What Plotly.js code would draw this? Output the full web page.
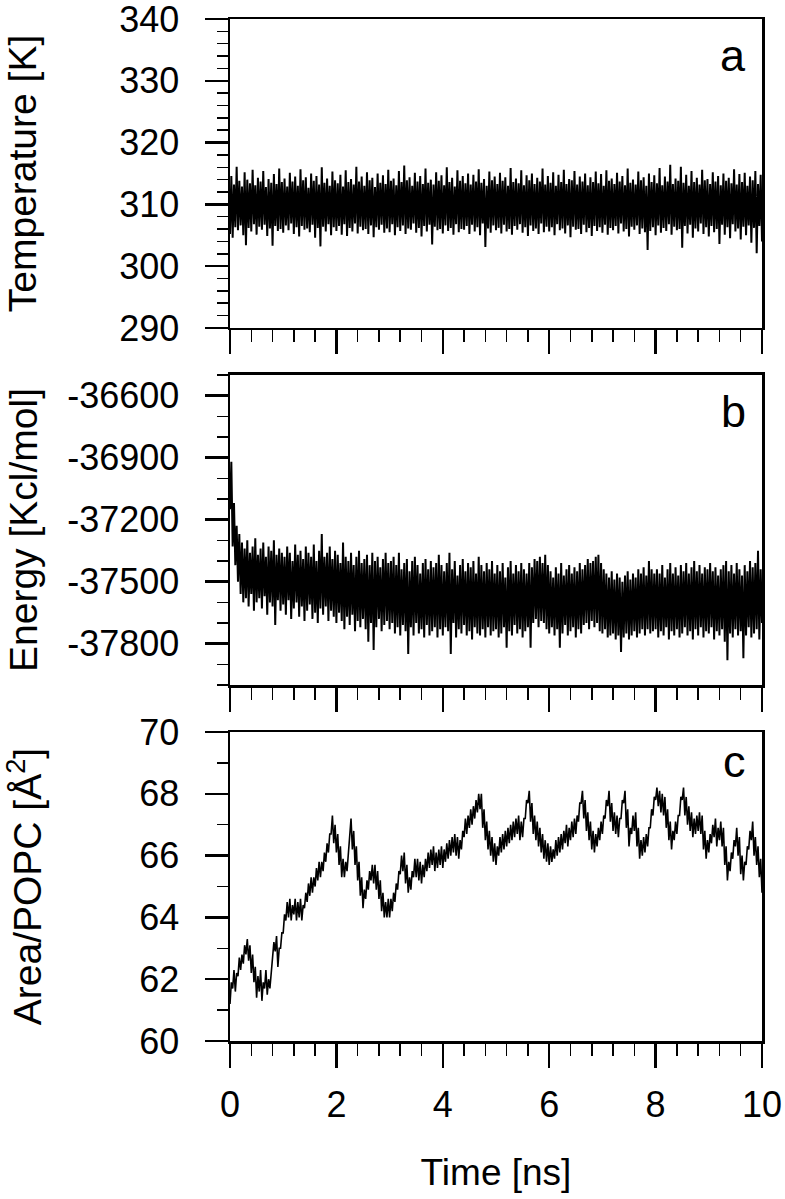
<!DOCTYPE html>
<html>
<head>
<meta charset="utf-8">
<script src="https://cdn.plot.ly/plotly-3.0.1.min.js"></script>
<style>
  html, body { margin: 0; padding: 0; background: #fff; }
  #tester { width: 785px; height: 1199px; }
</style>
</head>
<body>
<div id="tester"></div>
<script>
// sampling step of the traces (ns), read as upper / lower envelope per step
var timeStep = 0.05;

// panel a: temperature [K]
var tempHi = [
  314.6,313.2,316.1,313.8,312.9,315.2,314.0,313.4,315.6,313.1,314.3,313.7,315.4,312.8,314.1,313.5,314.9,313.3,315.8,313.6,
  314.2,312.9,315.1,313.7,314.5,313.0,315.7,313.9,314.4,312.7,315.0,313.8,314.6,313.2,316.0,313.5,314.2,313.0,315.3,313.9,
  313.4,314.8,312.9,315.5,313.6,314.1,313.2,316.1,313.7,314.5,313.0,315.2,313.9,314.3,312.8,315.0,313.5,314.7,313.3,315.6,
  313.8,314.2,313.1,315.4,313.6,316.3,313.9,314.4,313.0,315.1,313.7,314.6,313.3,315.8,313.5,314.0,313.2,315.2,313.8,314.7,
  313.1,316.0,313.6,314.3,312.9,315.5,313.8,314.6,313.4,315.0,313.2,314.8,313.7,315.7,313.5,314.1,313.0,315.3,313.9,314.5,
  313.3,315.1,313.8,314.4,313.0,315.9,313.6,314.2,313.4,315.5,313.1,314.7,313.9,315.0,313.3,314.3,313.7,315.8,313.2,314.6,
  313.5,315.2,313.0,314.8,313.6,315.6,313.3,314.1,313.9,315.4,313.2,314.5,313.7,315.0,313.1,314.4,313.6,315.3,313.4,314.9,
  313.0,315.5,313.8,314.2,313.3,315.1,313.7,314.6,313.1,315.8,313.5,314.0,313.2,315.3,313.9,314.4,313.0,315.0,313.6,314.7,
  313.4,315.9,313.1,314.5,313.7,316.4,313.3,314.2,313.8,316.1,313.5,314.8,313.0,315.4,313.6,314.3,313.2,315.6,313.9,314.1,
  313.3,315.2,313.7,314.6,313.1,315.0,313.8,314.3,313.4,315.7,313.2,314.9,313.6,315.1,313.0,314.5,313.9,315.4,313.3,314.8,
  313.5
];
var tempLo = [
  305.2,304.6,306.3,305.8,306.6,305.0,303.4,306.2,305.6,306.8,305.1,306.4,305.9,306.7,304.9,306.1,303.3,306.5,305.7,306.0,
  305.4,306.6,305.8,306.9,305.2,306.3,304.8,306.5,305.9,306.1,305.5,306.7,304.6,306.2,303.2,306.4,305.6,306.8,305.0,306.3,
  305.7,306.5,305.1,306.8,304.9,306.2,305.6,306.9,305.3,306.4,305.8,306.0,305.2,306.6,304.7,306.3,305.9,306.7,305.4,306.1,
  305.5,306.8,305.0,306.3,305.7,306.6,305.2,306.1,305.9,306.9,305.4,306.2,304.8,306.5,305.6,306.7,303.5,306.4,305.8,306.0,
  305.3,306.6,305.7,306.2,305.1,306.8,305.5,306.0,305.9,306.5,305.2,306.7,305.6,306.3,305.0,306.9,303.1,306.1,305.4,306.6,
  305.8,306.2,305.3,306.7,305.6,306.0,305.1,306.5,305.9,306.8,305.4,306.3,304.9,306.6,305.7,306.1,305.2,306.9,305.5,306.4,
  305.6,306.3,305.0,306.8,305.8,306.1,305.3,306.6,304.7,306.4,305.9,306.0,305.2,306.7,305.5,306.2,304.9,306.5,305.7,306.3,
  305.4,306.7,305.1,306.2,305.8,306.5,305.3,306.9,305.6,306.0,304.8,306.4,305.9,306.6,305.2,306.1,305.5,302.6,305.7,306.3,
  305.0,306.6,305.4,306.2,305.7,306.8,305.1,306.4,305.8,306.0,303.0,306.5,305.3,306.7,304.6,306.1,305.6,306.9,305.2,306.3,
  304.8,306.5,305.5,306.0,303.6,306.7,305.1,306.3,304.5,306.8,305.6,306.1,304.3,306.4,305.0,306.6,303.8,306.2,302.1,306.5,
  304.0
];

// panel b: energy [Kcal/mol]
var energyHi = [
  -36920,-37120,-37230,-37270,-37310,-37340,-37300,-37360,-37330,-37290,-37370,-37340,-37310,-37380,-37330,-37350,-37300,-37370,-37340,-37360,
  -37380,-37330,-37360,-37400,-37320,-37370,-37350,-37390,-37330,-37360,-37380,-37320,-37400,-37350,-37270,-37380,-37360,-37330,-37390,-37350,
  -37370,-37410,-37310,-37380,-37400,-37360,-37420,-37380,-37350,-37410,-37390,-37370,-37420,-37360,-37400,-37380,-37430,-37390,-37360,-37410,
  -37400,-37380,-37420,-37360,-37440,-37410,-37390,-37450,-37400,-37380,-37420,-37460,-37410,-37390,-37440,-37400,-37430,-37410,-37370,-37420,
  -37450,-37410,-37360,-37440,-37400,-37470,-37420,-37390,-37450,-37410,-37430,-37400,-37460,-37380,-37420,-37450,-37410,-37440,-37400,-37460,
  -37420,-37450,-37410,-37480,-37430,-37400,-37460,-37420,-37450,-37410,-37440,-37460,-37410,-37430,-37390,-37400,-37380,-37410,-37370,-37420,
  -37450,-37480,-37430,-37460,-37410,-37470,-37440,-37420,-37460,-37430,-37450,-37410,-37440,-37420,-37390,-37410,-37400,-37380,-37370,-37410,
  -37440,-37460,-37480,-37450,-37490,-37460,-37480,-37500,-37470,-37450,-37490,-37460,-37480,-37440,-37460,-37430,-37470,-37400,-37440,-37460,
  -37440,-37460,-37420,-37480,-37440,-37410,-37460,-37430,-37470,-37420,-37450,-37410,-37460,-37430,-37400,-37450,-37420,-37460,-37430,-37440,
  -37410,-37450,-37430,-37470,-37440,-37420,-37400,-37450,-37420,-37460,-37410,-37440,-37470,-37420,-37450,-37400,-37430,-37410,-37350,-37440,
  -37460
];
var energyLo = [
  -37150,-37330,-37420,-37500,-37560,-37600,-37580,-37620,-37560,-37640,-37600,-37580,-37630,-37570,-37660,-37600,-37620,-37710,-37590,-37640,
  -37610,-37660,-37590,-37680,-37630,-37600,-37670,-37620,-37690,-37640,-37610,-37680,-37650,-37700,-37630,-37660,-37620,-37690,-37640,-37670,
  -37700,-37650,-37690,-37730,-37670,-37710,-37660,-37740,-37690,-37720,-37680,-37730,-37790,-37700,-37830,-37720,-37680,-37740,-37710,-37690,
  -37730,-37700,-37750,-37720,-37760,-37710,-37740,-37850,-37720,-37760,-37700,-37750,-37730,-37770,-37710,-37760,-37740,-37720,-37770,-37730,
  -37760,-37720,-37740,-37850,-37700,-37770,-37730,-37750,-37710,-37760,-37740,-37780,-37720,-37750,-37760,-37730,-37770,-37720,-37760,-37740,
  -37730,-37770,-37750,-37720,-37820,-37740,-37760,-37710,-37750,-37730,-37770,-37740,-37720,-37820,-37700,-37680,-37720,-37690,-37700,-37730,
  -37750,-37720,-37760,-37730,-37820,-37750,-37710,-37760,-37740,-37720,-37770,-37730,-37750,-37710,-37700,-37730,-37690,-37720,-37700,-37740,
  -37750,-37730,-37770,-37760,-37750,-37780,-37760,-37840,-37770,-37750,-37780,-37760,-37740,-37770,-37750,-37730,-37760,-37730,-37750,-37740,
  -37730,-37770,-37740,-37760,-37720,-37780,-37740,-37760,-37730,-37770,-37750,-37720,-37760,-37740,-37780,-37730,-37760,-37720,-37770,-37740,
  -37750,-37720,-37780,-37740,-37760,-37730,-37790,-37880,-37750,-37770,-37730,-37760,-37740,-37870,-37760,-37720,-37770,-37750,-37730,-37780,
  -37700
];
var energyTicks = [-36600, -36900, -37200, -37500, -37800];
var energyTickText = ['-36600', '-36900', '-37200', '-37500', '-37800'];

// panel c: area per POPC [A^2]
var areaHi = [
  61.9,62.3,62.2,62.7,62.8,63.1,63.3,63.1,62.8,62.4,62.1,62.3,61.9,62.3,62.0,62.3,63.2,63.4,63.0,63.5,
  64.1,64.5,64.6,64.4,64.6,64.5,64.6,64.4,64.8,65.1,65.3,65.3,65.6,65.8,65.8,66.1,66.4,66.7,67.3,67.0,
  66.7,66.3,65.9,65.8,66.1,67.2,66.8,66.3,65.8,65.3,64.9,65.2,65.5,65.7,65.7,65.5,65.2,64.8,64.5,64.6,
  64.6,64.8,65.1,65.5,66.0,66.1,65.7,65.3,65.5,65.9,65.9,65.8,65.7,65.9,66.1,66.2,66.3,66.1,66.2,66.3,
  66.2,66.4,66.5,66.6,66.7,66.6,66.5,66.8,67.2,67.3,67.5,67.6,67.8,68.0,68.0,67.5,67.1,66.8,66.6,66.4,
  66.3,66.6,66.7,66.8,66.9,67.0,67.1,67.2,67.3,67.1,67.2,67.8,68.1,67.7,67.3,67.1,66.9,66.7,66.5,66.4,
  66.3,66.2,66.5,66.6,66.7,66.8,67.0,66.9,67.1,67.2,67.3,67.7,68.1,67.8,67.4,67.1,66.8,66.7,66.9,67.1,
  67.3,67.8,68.1,67.7,67.4,67.3,67.2,67.8,68.1,67.5,66.9,67.3,67.4,66.9,66.5,66.6,66.7,66.9,67.5,67.9,
  68.2,68.1,68.0,67.9,67.5,67.1,66.8,67.1,67.3,67.9,68.2,67.9,67.6,67.4,67.2,67.3,67.4,67.3,66.8,66.5,
  66.7,67.0,67.2,66.9,67.1,66.9,66.3,65.8,66.1,66.5,66.9,66.6,66.0,65.8,66.3,66.8,67.1,66.6,66.3,65.9,
  65.3
];
var areaLo = [
  61.2,61.7,61.6,62.1,62.3,62.5,62.8,62.6,62.2,61.9,61.4,61.6,61.3,61.7,61.5,61.7,62.6,62.9,62.4,63.0,
  63.5,63.9,64.0,63.9,64.1,63.9,64.0,63.9,64.3,64.5,64.7,64.8,65.0,65.2,65.3,65.5,65.8,66.1,66.7,66.4,
  66.1,65.7,65.3,65.3,65.5,66.7,66.2,65.7,65.2,64.7,64.3,64.6,64.9,65.2,65.1,64.9,64.6,64.2,64.0,64.0,
  64.0,64.2,64.5,64.9,65.4,65.5,65.1,64.8,64.9,65.3,65.3,65.2,65.1,65.3,65.5,65.6,65.7,65.5,65.6,65.7,
  65.6,65.8,65.9,66.0,66.1,66.0,65.9,66.2,66.6,66.7,66.9,67.0,67.2,67.4,67.5,66.9,66.5,66.2,66.0,65.8,
  65.7,66.0,66.1,66.2,66.3,66.4,66.5,66.6,66.7,66.5,66.6,67.2,67.7,67.1,66.7,66.5,66.3,66.1,65.9,65.8,
  65.7,65.8,65.9,66.0,66.1,66.2,66.4,66.3,66.5,66.6,66.7,67.1,67.7,67.2,66.8,66.5,66.2,66.1,66.3,66.5,
  66.7,67.2,67.6,67.1,66.8,66.7,66.6,67.2,67.7,66.9,66.3,66.7,66.8,66.3,65.9,66.0,66.1,66.3,66.9,67.3,
  67.8,67.6,67.4,67.3,66.9,66.5,66.2,66.5,66.7,67.3,67.8,67.3,67.0,66.8,66.6,66.7,66.8,66.7,66.2,65.9,
  66.1,66.4,66.6,66.3,66.5,66.3,65.7,65.2,65.5,65.9,66.3,66.0,65.4,65.2,65.7,66.2,66.5,66.0,65.7,65.3,
  64.8
];

var panelLetters = ['a', 'b', 'c'];

// interleave the lower and upper envelope into one trace
function zigzag(lo, hi) {
  var xs = [], ys = [];
  for (var i = 0; i < lo.length; i++) {
    var t = i * timeStep;
    xs.push(t); ys.push(lo[i]);
    xs.push(t + timeStep / 2); ys.push(hi[i]);
  }
  return {x: xs, y: ys};
}

var FONT = 'Arial, "Liberation Sans", sans-serif';

var tA = zigzag(tempLo, tempHi);
var tB = zigzag(energyLo, energyHi);
var tC = zigzag(areaLo, areaHi);

var trace1 = {
  x: tA.x, y: tA.y, xaxis: 'x3', yaxis: 'y3',
  mode: 'lines', type: 'scatter',
  line: {color: '#000', width: 2}
};
var trace2 = {
  x: tB.x, y: tB.y, xaxis: 'x2', yaxis: 'y2',
  mode: 'lines', type: 'scatter',
  line: {color: '#000', width: 2}
};
var trace3 = {
  x: tC.x, y: tC.y, xaxis: 'x', yaxis: 'y',
  mode: 'lines', type: 'scatter',
  line: {color: '#000', width: 1.6}
};

function xAxis(anchor, labels) {
  var ax = {
    anchor: anchor,
    range: [0, 10],
    tick0: 0, dtick: 2,
    ticks: 'outside', ticklen: 24, tickwidth: 2.5, tickcolor: '#000',
    minor: {dtick: 0.4, ticks: 'outside', ticklen: 12, tickwidth: 1.5, tickcolor: '#000'},
    showline: true, mirror: true, linewidth: 2.5, linecolor: '#000',
    showgrid: false, zeroline: false,
    showticklabels: labels,
    tickfont: {family: FONT, size: 36, color: '#000'},
    ticklabelstandoff: 6
  };
  return ax;
}

function yAxis(domain, range, tick0, dtick, minorStep, title, standoff) {
  return {
    domain: domain,
    range: range,
    tick0: tick0, dtick: dtick,
    ticks: 'outside', ticklen: 23, tickwidth: 2.5, tickcolor: '#000',
    minor: {tick0: tick0, dtick: minorStep, ticks: 'outside', ticklen: 11, tickwidth: 1.5, tickcolor: '#000'},
    showline: true, mirror: true, linewidth: 2.5, linecolor: '#000',
    showgrid: false, zeroline: false,
    tickfont: {family: FONT, size: 36, color: '#000'},
    ticklabelstandoff: 18,
    ticklabeloverflow: 'allow',
    title: {text: title, font: {family: FONT, size: 39, color: '#000'}, standoff: standoff}
  };
}

var xa = xAxis('y', true);
xa.title = {text: 'Time [ns]', font: {family: FONT, size: 37, color: '#000'}, standoff: 36};

var ya2 = yAxis([0.3483, 0.6517], [-38000, -36500], -36600, 300, 100, 'Energy [Kcl/mol]', 18);
ya2.tickmode = 'array';
ya2.tickvals = energyTicks;
ya2.ticktext = energyTickText;

var layout = {
  width: 785, height: 1199,
  margin: {l: 230, r: 23, t: 19, b: 158},
  showlegend: false,
  paper_bgcolor: '#fff', plot_bgcolor: '#fff',
  xaxis: xa,
  xaxis2: xAxis('y2', false),
  xaxis3: xAxis('y3', false),
  yaxis: yAxis([0, 0.3023], [60, 70], 60, 2, 1, 'Area/POPC [Å<sup>2</sup>]', 88),
  yaxis2: ya2,
  yaxis3: yAxis([0.6977, 1], [290, 340], 290, 10, 2, 'Temperature [K]', 71),
  annotations: [
    {text: panelLetters[0], xref: 'paper', yref: 'paper', x: 0.9737, y: 0.9638, xanchor: 'right', yanchor: 'middle', showarrow: false, font: {family: FONT, size: 45, color: '#000'}},
    {text: panelLetters[1], xref: 'paper', yref: 'paper', x: 0.9737, y: 0.6155, xanchor: 'right', yanchor: 'middle', showarrow: false, font: {family: FONT, size: 45, color: '#000'}},
    {text: panelLetters[2], xref: 'paper', yref: 'paper', x: 0.9737, y: 0.273, xanchor: 'right', yanchor: 'middle', showarrow: false, font: {family: FONT, size: 45, color: '#000'}}
  ]
};

TESTER = document.getElementById('tester');
Plotly.newPlot(TESTER, [trace1, trace2, trace3], layout, {staticPlot: true});
</script>
</body>
</html>
